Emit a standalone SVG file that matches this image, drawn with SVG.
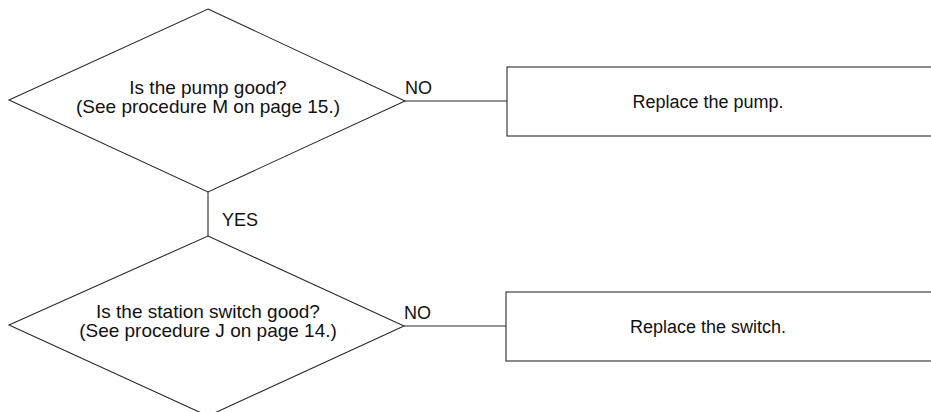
<svg xmlns="http://www.w3.org/2000/svg" width="931" height="412" viewBox="0 0 931 412">
  <style>
    .shape { fill: #ffffff; stroke: #2a2a2a; stroke-width: 1.1; }
    .link { fill: none; stroke: #2a2a2a; stroke-width: 1.1; }
    .txt { font-family: "Liberation Sans", Arial, sans-serif; font-size: 19px; fill: #111111; text-anchor: middle; }
    .box-txt { font-family: "Liberation Sans", Arial, sans-serif; font-size: 18px; fill: #111111; text-anchor: middle; }
    .lbl { font-family: "Liberation Sans", Arial, sans-serif; font-size: 18px; fill: #111111; }
  </style>
  <rect width="931" height="412" fill="#ffffff"/>

  <g id="connectors">
    <line class="link" x1="405" y1="101" x2="507" y2="101"/>
    <line class="link" x1="208" y1="192" x2="208" y2="236"/>
    <line class="link" x1="404" y1="326" x2="506" y2="326"/>
    <text class="lbl" x="405" y="94">NO</text>
    <text class="lbl" x="222" y="226">YES</text>
    <text class="lbl" x="404" y="319">NO</text>
  </g>

  <g id="pump-check">
    <polygon class="shape" points="208,9 405,101 208,192 9,100"/>
    <text class="txt" x="208" y="94">Is the pump good?</text>
    <text class="txt" x="208" y="113">(See procedure M on page 15.)</text>
  </g>

  <g id="replace-pump">
    <rect class="shape" x="507" y="67" width="430" height="69"/>
    <text class="box-txt" x="708" y="108">Replace the pump.</text>
  </g>

  <g id="switch-check">
    <polygon class="shape" points="208,236 404,326 208,416 9,325"/>
    <text class="txt" x="208" y="318">Is the station switch good?</text>
    <text class="txt" x="208" y="337">(See procedure J on page 14.)</text>
  </g>

  <g id="replace-switch">
    <rect class="shape" x="506" y="292" width="431" height="69"/>
    <text class="box-txt" x="708" y="333">Replace the switch.</text>
  </g>
</svg>
